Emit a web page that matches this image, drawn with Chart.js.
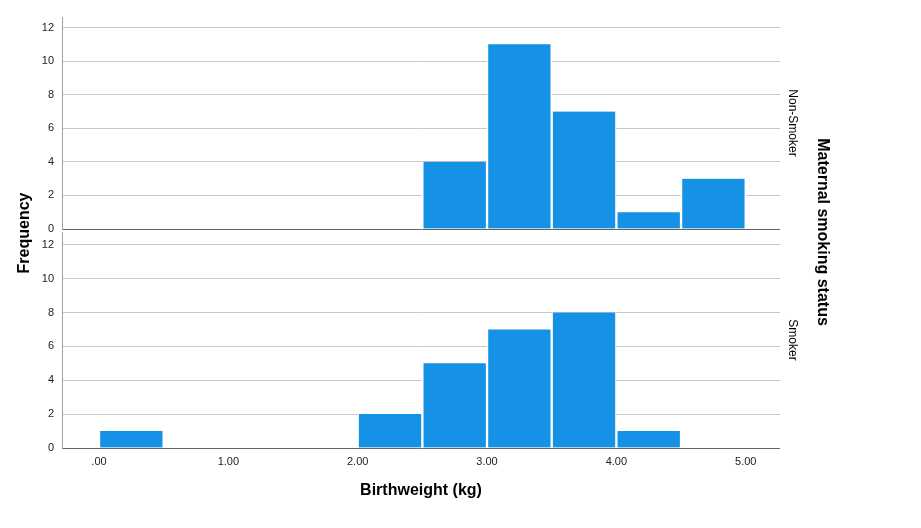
<!DOCTYPE html>
<html>
<head>
<meta charset="utf-8">
<script src="https://cdn.jsdelivr.net/npm/chart.js@4.4.1/dist/chart.umd.min.js"></script>
<style>
  body { margin: 0; background: #fff; }
  #wrap { position: relative; width: 921px; height: 528px; }
  #wrap canvas { position: absolute; left: 0; top: 0; }
</style>
</head>
<body>
<div id="wrap">
  <canvas id="topChart" width="921" height="528"></canvas>
  <canvas id="bottomChart" width="921" height="528"></canvas>
</div>
<script>
// Histogram bins (width 0.5 kg), centres used as x positions
const binCenters = [0.25, 0.75, 1.25, 1.75, 2.25, 2.75, 3.25, 3.75, 4.25, 4.75];
const nonSmokerCounts = [0, 0, 0, 0, 0, 4, 11, 7, 1, 3];
const smokerCounts = [1, 0, 0, 0, 2, 5, 7, 8, 1, 0];
const xTicks = [0, 1, 2, 3, 4, 5];
const yTicks = [0, 2, 4, 6, 8, 10, 12];
const panelNames = ['Non-Smoker', 'Smoker'];

const FONT = '"Liberation Sans", Arial, sans-serif';
const barColor = '#1591e5';

function toPoints(counts) {
    return binCenters.map((c, i) => ({ x: c, y: counts[i] }));
}

// draws the facet label on the right, plus the shared titles on one chart
const facetText = {
    id: 'facetText',
    afterDraw(chart, args, opts) {
        const ctx = chart.ctx;
        const a = chart.chartArea;
        ctx.save();
        ctx.fillStyle = '#000';
        ctx.textAlign = 'center';
        ctx.textBaseline = 'middle';
        ctx.font = '12px ' + FONT;
        ctx.translate(a.right + 12, (a.top + a.bottom) / 2);
        ctx.rotate(Math.PI / 2);
        ctx.fillText(opts.label, 0, 0);
        ctx.restore();

        if (opts.shared) {
            ctx.save();
            ctx.fillStyle = '#000';
            ctx.textAlign = 'center';
            ctx.textBaseline = 'middle';
            ctx.font = 'bold 16px ' + FONT;
            ctx.fillText('Birthweight (kg)', (a.left + a.right) / 2, 491);
            ctx.save();
            ctx.translate(25, 233);
            ctx.rotate(-Math.PI / 2);
            ctx.fillText('Frequency', 0, 0);
            ctx.restore();
            ctx.translate(822, 232);
            ctx.rotate(Math.PI / 2);
            ctx.fillText('Maternal smoking status', 0, 0);
            ctx.restore();
        }
    }
};

function makeChart(id, counts, label, yMax, padding, showX) {
    return new Chart(document.getElementById(id), {
        type: 'bar',
        data: {
            datasets: [{
                label: label,
                data: toPoints(counts),
                backgroundColor: barColor,
                borderColor: '#ffffff',
                borderWidth: { left: 1.5, right: 1.5, top: 0, bottom: 0 },
                borderSkipped: false,
                barPercentage: 1,
                categoryPercentage: 1
            }]
        },
        options: {
            responsive: false,
            animation: false,
            devicePixelRatio: 1,
            layout: { padding: padding },
            plugins: {
                legend: { display: false },
                tooltip: { enabled: false },
                facetText: { label: label, shared: showX }
            },
            scales: {
                x: {
                    type: 'linear',
                    display: showX,
                    offset: false,
                    min: -0.286,
                    max: 5.265,
                    afterBuildTicks: (s) => { s.ticks = xTicks.map(v => ({ value: v })); },
                    afterFit: (s) => { s.height = showX ? 80 : 0; },
                    grid: { display: false, drawTicks: false, offset: false },
                    border: { display: false },
                    ticks: {
                        padding: 7,
                        color: '#222',
                        font: { family: FONT, size: 11 },
                        maxRotation: 0,
                        callback: (v) => v === 0 ? '.00' : v.toFixed(2)
                    }
                },
                y: {
                    min: 0,
                    max: yMax,
                    afterBuildTicks: (s) => { s.ticks = yTicks.map(v => ({ value: v })); },
                    afterFit: (s) => { s.width = 62; },
                    grid: {
                        drawTicks: false,
                        color: (c) => c.tick && c.tick.value === 0 ? '#666666' : '#c8c8c8'
                    },
                    border: { display: true, color: '#a0a0a0' },
                    ticks: {
                        padding: 8,
                        color: '#222',
                        font: { family: FONT, size: 11 }
                    }
                }
            }
        },
        plugins: [facetText]
    });
}

const topChart = makeChart('topChart', nonSmokerCounts, panelNames[0], 12.63,
    { left: 0, top: 17, right: 141, bottom: 299 }, false);
const bottomChart = makeChart('bottomChart', smokerCounts, panelNames[1], 12.75,
    { left: 0, top: 232, right: 141, bottom: 0 }, true);
</script>
</body>
</html>
